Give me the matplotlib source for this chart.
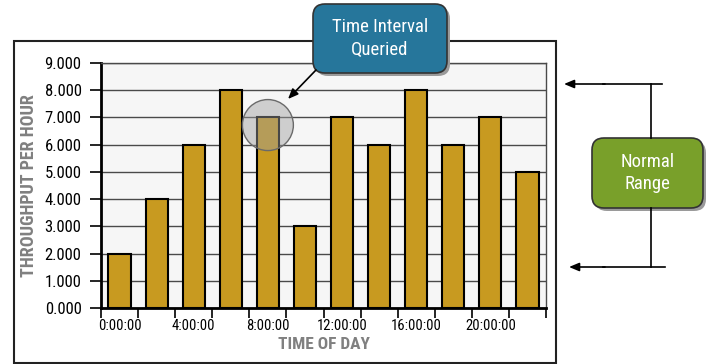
#!/usr/bin/env python3
"""
Throughput per hour by time of day, with callouts
"""

import matplotlib
matplotlib.use("Agg")
import matplotlib.pyplot as plt
from matplotlib.patches import FancyBboxPatch, Rectangle, Circle
from matplotlib.ticker import FixedLocator, NullFormatter

# ----------------------------------------------------------------------
throughput = [2, 4, 6, 8, 7, 3, 7, 6, 8, 6, 7, 5]
bar_labels = ["0:00:00", "", "4:00:00", "", "8:00:00", "", "12:00:00", "",
              "16:00:00", "", "20:00:00", ""]
y_ticks = [0, 1, 2, 3, 4, 5, 6, 7, 8, 9]
queried_bar = 4
queried_level = 6.72
# ----------------------------------------------------------------------

FONT = ["Roboto Condensed", "DejaVu Sans"]
plt.rcParams["font.family"] = FONT

BAR_COLOR = "#c89a20"
GRID_COLOR = "#4a4a4a"
LABEL_GRAY = "#808080"
W, H = 713, 364

fig = plt.figure(figsize=(W / 100, H / 100), dpi=100)

ax = fig.add_axes([101 / W, 1 - 308 / H, 445 / W, 245 / H])
ax.set_facecolor("#f6f6f6")
x = list(range(len(throughput)))
ax.bar(x, throughput, width=0.6, color=BAR_COLOR, edgecolor="black",
       linewidth=1.5, zorder=3)

ax.set_xlim(-0.5, len(throughput) - 0.5)
ax.set_ylim(0, 9)
ax.set_yticks(y_ticks)
ax.set_yticklabels([f"{v:.3f}" for v in y_ticks], fontsize=12)
ax.yaxis.grid(True, color=GRID_COLOR, linewidth=1, zorder=1)
ax.tick_params(axis="y", length=8, width=1.2, pad=6, color="black")

# boundaries get the tick marks, bars get the labels
ax.xaxis.set_major_locator(FixedLocator([i - 0.5 for i in range(len(throughput) + 1)]))
ax.xaxis.set_major_formatter(NullFormatter())
ax.xaxis.set_minor_locator(FixedLocator(x))
ax.set_xticklabels(bar_labels, minor=True, fontsize=10.5)
ax.tick_params(axis="x", which="major", length=7, width=1.2, color="black")
ax.tick_params(axis="x", which="minor", length=0, pad=8)

for side in ["left", "bottom"]:
    ax.spines[side].set_linewidth(2)
    ax.spines[side].set_color("black")
ax.spines["right"].set_color(GRID_COLOR)
ax.spines["right"].set_linewidth(1)
ax.spines["top"].set_color(GRID_COLOR)
ax.spines["top"].set_linewidth(1)

ax.set_ylabel("THROUGHPUT PER HOUR", fontsize=13, fontweight="bold",
              color=LABEL_GRAY, labelpad=5)
ax.set_xlabel("TIME OF DAY", fontsize=12.5, fontweight="bold",
              color=LABEL_GRAY, labelpad=3)

# highlight on the queried interval, drawn in pixel space so it stays round
cx, cy = ax.transData.transform((queried_bar, queried_level))
over = fig.add_axes([0, 0, 1, 1], zorder=5)
over.set_xlim(0, W)
over.set_ylim(0, H)
over.axis("off")
over.add_patch(Circle((cx, cy), 25.5, facecolor="#9f9f9f", alpha=0.45,
                      edgecolor="none"))
over.add_patch(Circle((cx, cy), 25.5, facecolor="none", edgecolor="#6a6a6a",
                      linewidth=1))

# outer chart frame
over.add_patch(Rectangle((14, H - 363), 542, 322, facecolor="none",
                         edgecolor="#222222", linewidth=1.5))


def callout(x0, y0, x1, y1, color, text):
    # pixel coords measured from the top
    w, h = x1 - x0, y1 - y0
    style = "round,pad=0,rounding_size=12"
    over.add_patch(FancyBboxPatch((x0 + 3, H - y1 - 3), w, h, boxstyle=style,
                                  facecolor="#9a9a9a", edgecolor="none"))
    over.add_patch(FancyBboxPatch((x0, H - y1), w, h, boxstyle=style,
                                  facecolor=color, edgecolor="#333333",
                                  linewidth=1.2))
    over.text((x0 + x1) / 2, H - (y0 + y1) / 2, text, color="white",
              fontsize=13.5, ha="center", va="center", linespacing=1.3)


callout(313, 4, 447, 73, "#26769b", "Time Interval\nQueried")
callout(592, 138, 703, 208, "#79a02a", "Normal\nRange")

arrow = dict(arrowstyle="-|>,head_length=0.6,head_width=0.25",
             color="black", linewidth=1.2, shrinkA=0, shrinkB=0)
over.annotate("", xy=(288, H - 99), xytext=(316, H - 70), arrowprops=arrow)

# normal range bracket
over.plot([651, 651], [H - 84, H - 138], color="black", linewidth=1.2)
over.plot([651, 651], [H - 208, H - 267], color="black", linewidth=1.2)
over.plot([603, 662], [H - 84, H - 84], color="black", linewidth=1.2)
over.plot([603, 665], [H - 267, H - 267], color="black", linewidth=1.2)
over.annotate("", xy=(564, H - 84), xytext=(605, H - 84), arrowprops=arrow)
over.annotate("", xy=(569, H - 267), xytext=(605, H - 267), arrowprops=arrow)

fig.savefig("out.png", dpi=100)
